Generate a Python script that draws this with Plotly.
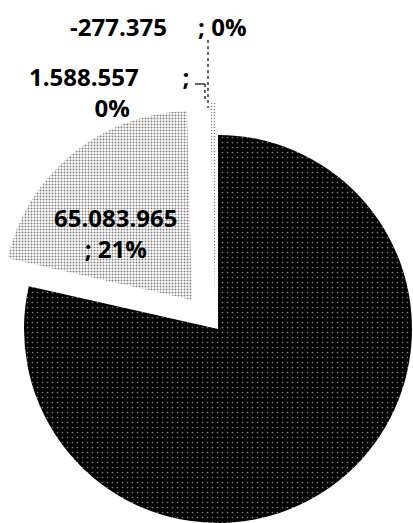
import plotly.graph_objects as go

# ---- data ----
slice_names = ["Posizione A", "Posizione B", "Posizione C", "Posizione D"]
slice_values = [243000000, 65083965, 1588557, -277375]
slice_pct = ["79%", "21%", "0%", "0%"]

W, H = 413, 523
FONT = dict(family="Open Sans", size=24, color="black", weight="bold")


def fmt(v):
    return f"{v:,}".replace(",", ".")


def dom(cx, cy, r):
    return dict(x=[max(0, (cx - r) / W), min(1, (cx + r) / W)],
                y=[max(0, 1 - (cy + r) / H), min(1, 1 - (cy - r) / H)])


T = "rgba(0,0,0,0)"
common = dict(labels=slice_names, values=slice_values, text=slice_pct,
              sort=False, direction="clockwise", rotation=0,
              showlegend=False, hoverinfo="skip", textinfo="none")

fig = go.Figure()
# main (dark) slice
fig.add_trace(go.Pie(
    **common, domain=dom(218, 329, 194),
    marker=dict(colors=["black", T, T, T], line=dict(width=0),
                pattern=dict(shape=[".", "", "", ""], fgcolor="white",
                             bgcolor=["black", T, T, T], size=5, solidity=0.09,
                             fillmode="overlay")),
))
# exploded light slice
fig.add_trace(go.Pie(
    **common, domain=dom(192, 300, 189),
    marker=dict(colors=[T, "white", T, T], line=dict(width=0),
                pattern=dict(shape=["", ".", "", ""], fgcolor="black",
                             bgcolor=[T, "white", T, T], size=3, solidity=0.33,
                             fillmode="overlay")),
))
# exploded tiny slice
fig.add_trace(go.Pie(
    **common, domain=dom(215, 295, 192),
    marker=dict(colors=[T, T, "white", T], line=dict(width=0),
                pattern=dict(shape=["", "", ".", ""], fgcolor="black",
                             bgcolor=[T, T, "white", T], size=3, solidity=0.2,
                             fillmode="overlay")),
))


def px(x, y):
    return x / W, 1 - y / H


# leader lines
for (x0, y0, x1, y1, dash) in [(208, 40, 208, 108, "dot"),
                               (195, 84, 205, 84, "solid"),
                               (205, 84, 205, 102, "dot")]:
    a, b = px(x0, y0)
    c, d = px(x1, y1)
    fig.add_shape(type="line", xref="paper", yref="paper", x0=a, y0=b, x1=c, y1=d,
                  line=dict(color="#333", width=1.5, dash=dash))

# data labels
nb = "\u00a0"
ax, ay = px(158, 26)
fig.add_annotation(xref="paper", yref="paper", x=ax, y=ay, showarrow=False,
                   text=f"{fmt(slice_values[3])}{nb*5}; {slice_pct[3]}", font=FONT,
                   xanchor="center", yanchor="middle")
ax, ay = px(112, 92)
fig.add_annotation(xref="paper", yref="paper", x=ax, y=ay, showarrow=False,
                   text=f"{fmt(slice_values[2])}{nb*7};{nb*1}<br>{slice_pct[2]}", font=FONT,
                   xanchor="center", yanchor="middle")
ax, ay = px(115, 233)
fig.add_annotation(xref="paper", yref="paper", x=ax, y=ay, showarrow=False,
                   text=f"{fmt(slice_values[1])}<br>; {slice_pct[1]}", font=FONT,
                   xanchor="center", yanchor="middle")

fig.update_layout(width=W, height=H, margin=dict(l=0, r=0, t=0, b=0),
                  paper_bgcolor="white", plot_bgcolor="white", separators=",.")
fig.write_html("out.html")
